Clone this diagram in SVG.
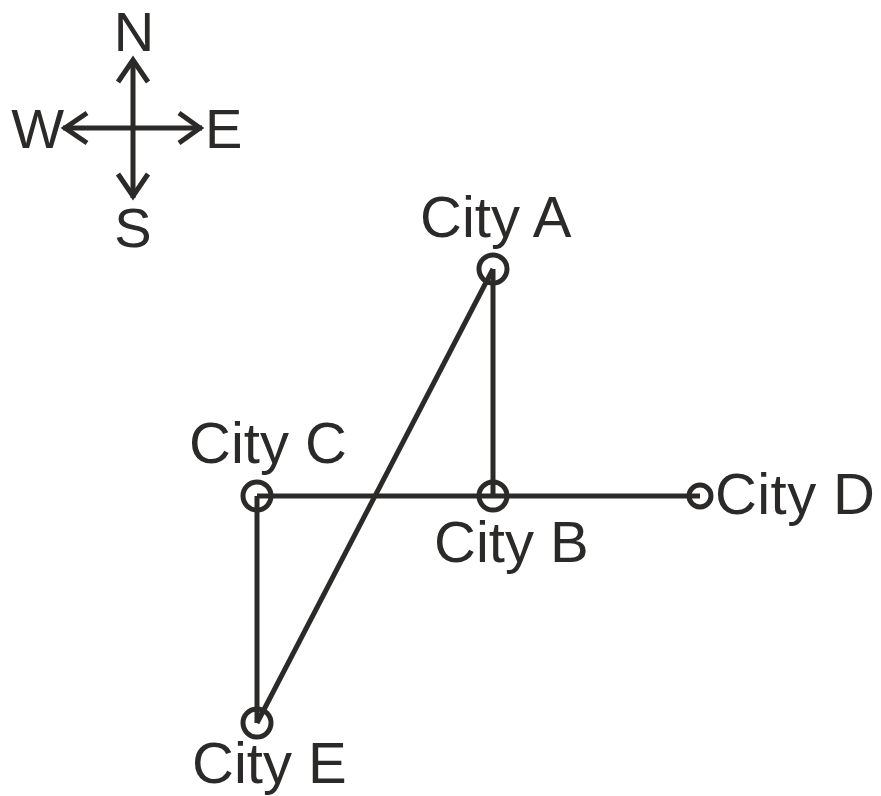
<svg xmlns="http://www.w3.org/2000/svg" width="881" height="796" viewBox="0 0 881 796">
<style>
.ln{stroke:#2b2a29;stroke-width:5;fill:none;stroke-linecap:butt}
.nd{stroke:#2b2a29;stroke-width:5;fill:none}
.t{font-family:"Liberation Sans",Arial,sans-serif;font-size:56px;fill:#2b2a29}
.c{font-size:58px}
</style>
<rect width="881" height="796" fill="#ffffff"/>
<g id="compass">
<line class="ln" x1="133" y1="60" x2="133" y2="198"/>
<line class="ln" x1="63" y1="128" x2="202" y2="128"/>
<polyline class="ln" points="118,82 133,60 148,82"/>
<polyline class="ln" points="118,174 133,196 148,174"/>
<polyline class="ln" points="87,113 65,128 87,143"/>
<polyline class="ln" points="179,113 200,128 179,143"/>
<text class="t" x="134" y="51" text-anchor="middle">N</text>
<text class="t" x="133" y="247" text-anchor="middle">S</text>
<text class="t" x="64" y="148" text-anchor="end">W</text>
<text class="t" x="205" y="148">E</text>
</g>
<g id="connectors">
<line class="ln" x1="257" y1="496" x2="700" y2="496"/>
<line class="ln" x1="493" y1="269" x2="493" y2="496"/>
<line class="ln" x1="257" y1="496" x2="257" y2="723"/>
<line class="ln" x1="493" y1="269" x2="257" y2="723"/>
</g>
<g id="cityA"><circle class="nd" cx="493" cy="269" r="14"/><text class="t c" x="420" y="237">City A</text></g>
<g id="cityB"><circle class="nd" cx="493" cy="496" r="14"/><text class="t c" x="434" y="562">City B</text></g>
<g id="cityC"><circle class="nd" cx="257" cy="496" r="14"/><text class="t c" x="189" y="463">City C</text></g>
<g id="cityD"><circle class="nd" cx="700" cy="496" r="11"/><text class="t c" x="715" y="514" textLength="160">City D</text></g>
<g id="cityE"><circle class="nd" cx="257" cy="723" r="14"/><text class="t c" x="192" y="783">City E</text></g>
</svg>
